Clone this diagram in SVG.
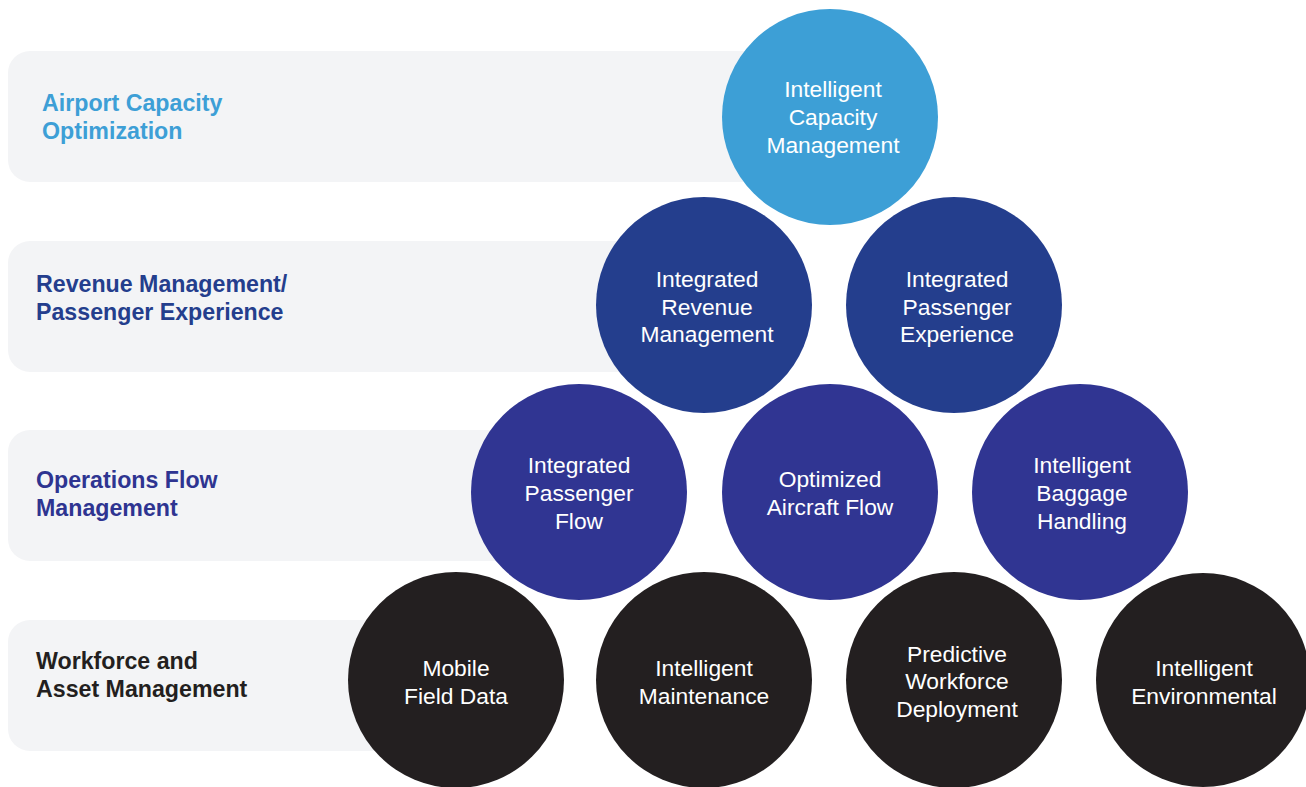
<svg xmlns="http://www.w3.org/2000/svg" width="1306" height="787" viewBox="0 0 1306 787">
  <style>
    .band { fill: #f3f4f6; }
    .tier { font-family: "Liberation Sans", Arial, sans-serif; font-weight: bold; font-size: 23.2px; }
    .node-text { font-family: "Liberation Sans", Arial, sans-serif; font-size: 22.8px; fill: #ffffff; text-anchor: middle; }
    .c-sky { fill: #3d9fd6; }
    .c-navy { fill: #243e8d; }
    .c-indigo { fill: #303592; }
    .c-black { fill: #231f20; }
  </style>
  <rect width="1306" height="787" fill="#ffffff"/>

  <!-- tier bands with their titles -->
  <g id="tier-capacity">
    <rect class="band" x="8" y="51" width="822" height="131" rx="22"/>
    <text class="tier" fill="#3d9fd6"><tspan x="42" y="111">Airport Capacity</tspan><tspan x="42" y="139">Optimization</tspan></text>
  </g>
  <g id="tier-revenue">
    <rect class="band" x="8" y="241" width="697" height="131" rx="22"/>
    <text class="tier" fill="#243e8d"><tspan x="36" y="292">Revenue Management/</tspan><tspan x="36" y="320">Passenger Experience</tspan></text>
  </g>
  <g id="tier-operations">
    <rect class="band" x="8" y="430" width="571" height="131" rx="22"/>
    <text class="tier" fill="#2e3491"><tspan x="36" y="488">Operations Flow</tspan><tspan x="36" y="516">Management</tspan></text>
  </g>
  <g id="tier-workforce">
    <rect class="band" x="8" y="620" width="448" height="131" rx="22"/>
    <text class="tier" fill="#231f20"><tspan x="36" y="669">Workforce and</tspan><tspan x="36" y="697">Asset Management</tspan></text>
  </g>

  <!-- row 1 -->
  <g id="intelligent-capacity-management">
    <circle class="c-sky" cx="830" cy="117" r="108"/>
    <text class="node-text"><tspan x="833" y="97">Intelligent</tspan><tspan x="833" y="125">Capacity</tspan><tspan x="833" y="153">Management</tspan></text>
  </g>

  <!-- row 2 -->
  <g id="integrated-revenue-management">
    <circle class="c-navy" cx="704" cy="305" r="108"/>
    <text class="node-text"><tspan x="707" y="287">Integrated</tspan><tspan x="707" y="315">Revenue</tspan><tspan x="707" y="342">Management</tspan></text>
  </g>
  <g id="integrated-passenger-experience">
    <circle class="c-navy" cx="954" cy="305" r="108"/>
    <text class="node-text"><tspan x="957" y="287">Integrated</tspan><tspan x="957" y="315">Passenger</tspan><tspan x="957" y="342">Experience</tspan></text>
  </g>

  <!-- row 3 -->
  <g id="integrated-passenger-flow">
    <circle class="c-indigo" cx="579" cy="492" r="108"/>
    <text class="node-text"><tspan x="579" y="473">Integrated</tspan><tspan x="579" y="501">Passenger</tspan><tspan x="579" y="529">Flow</tspan></text>
  </g>
  <g id="optimized-aircraft-flow">
    <circle class="c-indigo" cx="830" cy="492" r="108"/>
    <text class="node-text"><tspan x="830" y="487">Optimized</tspan><tspan x="830" y="515">Aircraft Flow</tspan></text>
  </g>
  <g id="intelligent-baggage-handling">
    <circle class="c-indigo" cx="1080" cy="492" r="108"/>
    <text class="node-text"><tspan x="1082" y="473">Intelligent</tspan><tspan x="1082" y="501">Baggage</tspan><tspan x="1082" y="529">Handling</tspan></text>
  </g>

  <!-- row 4 -->
  <g id="mobile-field-data">
    <circle class="c-black" cx="456" cy="680" r="108"/>
    <text class="node-text"><tspan x="456" y="676">Mobile</tspan><tspan x="456" y="704">Field Data</tspan></text>
  </g>
  <g id="intelligent-maintenance">
    <circle class="c-black" cx="704" cy="680" r="108"/>
    <text class="node-text"><tspan x="704" y="676">Intelligent</tspan><tspan x="704" y="704">Maintenance</tspan></text>
  </g>
  <g id="predictive-workforce-deployment">
    <circle class="c-black" cx="954" cy="680" r="108"/>
    <text class="node-text"><tspan x="957" y="662">Predictive</tspan><tspan x="957" y="689">Workforce</tspan><tspan x="957" y="717">Deployment</tspan></text>
  </g>
  <g id="intelligent-environmental">
    <circle class="c-black" cx="1203" cy="680" r="107"/>
    <text class="node-text"><tspan x="1204" y="676">Intelligent</tspan><tspan x="1204" y="704">Environmental</tspan></text>
  </g>

  <!-- the tiers are stacked directly; there are no connectors -->
  <g id="connectors"/>
</svg>
